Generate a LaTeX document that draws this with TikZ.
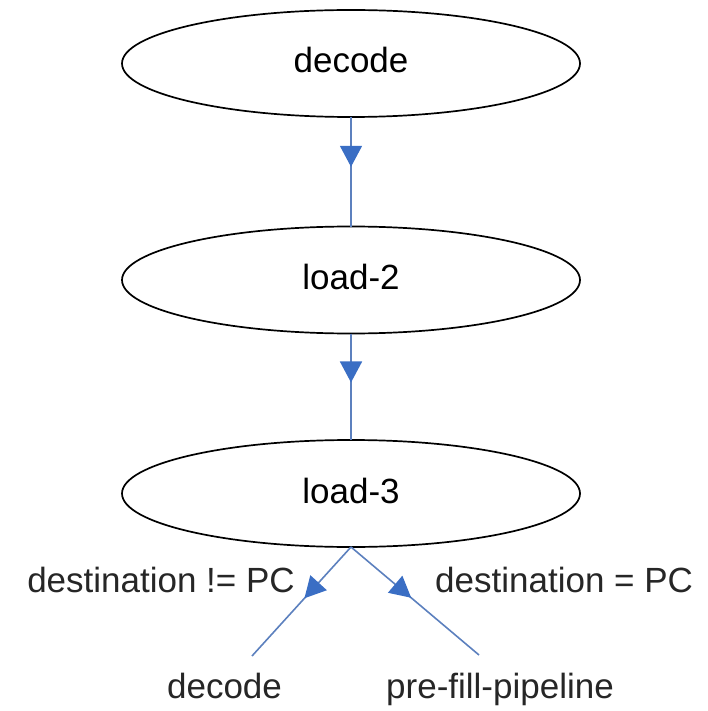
\documentclass[tikz,border=0pt]{standalone}
\usepackage{fontspec}
\setmainfont{Liberation Sans}
\usetikzlibrary{shapes.geometric,arrows.meta,decorations.markings}

\definecolor{flowline}{RGB}{92,128,190}
\definecolor{flowhead}{RGB}{58,110,196}

\tikzset{
  state/.style={ellipse, draw=black, line width=1.7pt, fill=white,
    minimum width=458pt, minimum height=107pt, inner sep=0pt, outer sep=0pt,
    font=\fontsize{35}{40}\selectfont, text height=19pt, text depth=0pt},
  caption/.style={font=\fontsize{35}{40}\selectfont, inner sep=0pt, text=black!85},
  flow/.style={draw=flowline, line width=1.6pt,
    postaction={decorate, decoration={markings,
      mark=at position #1 with {\arrow[flowhead]{Triangle[length=21pt,width=22pt]}}}}},
  flow/.default=0.46
}

\begin{document}
\begin{tikzpicture}[x=1pt, y=-1pt]
  \useasboundingbox (0,0) rectangle (708,711);

  % states
  \node[state] (dec)   at (351,63.5)  {decode};
  \node[state] (load2) at (351,280)   {load-2};
  \node[state] (load3) at (351,493.5) {load-3};

  % branch targets outside the chart
  \node[caption, anchor=base] (nextdec)  at (224.5,698) {decode};
  \node[caption, anchor=base] (prefill)  at (500,698)   {pre-fill-pipeline};
  \coordinate (decend)  at (252,656);
  \coordinate (fillend) at (479,655);

  % transitions
  \draw[flow=0.455] (dec.south) -- (load2.north);
  \draw[flow=0.46]  (load2.south) -- (load3.north);
  \draw[flow=0.47]  (load3.south) -- (decend);
  \draw[flow=0.47]  (load3.south) -- (fillend);

  % branch conditions
  \node[caption, anchor=base east] (neqpc) at (295,592) {destination != PC};
  \node[caption, anchor=base west] (eqpc)  at (435,592) {destination = PC};
\end{tikzpicture}
\end{document}
